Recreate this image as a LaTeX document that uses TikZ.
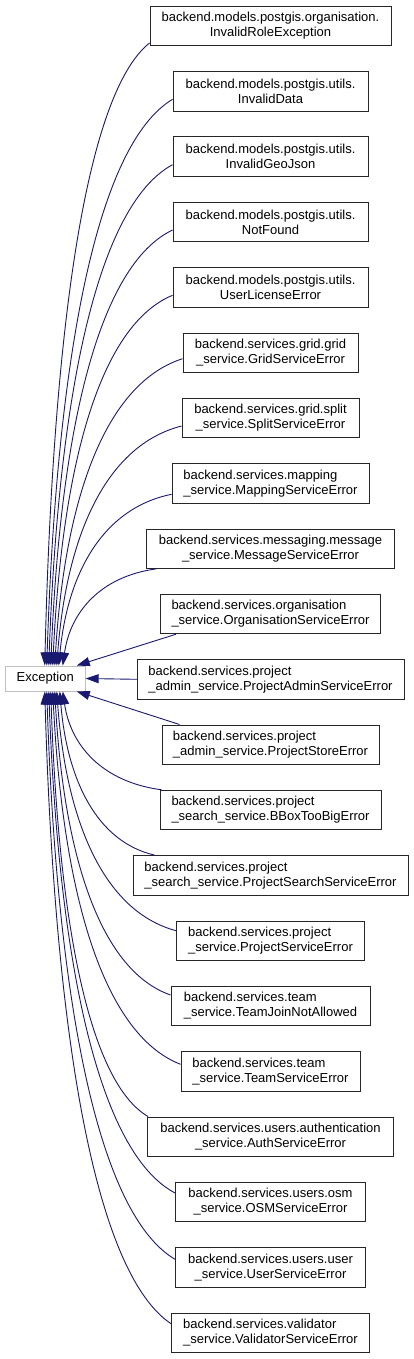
\documentclass[tikz,border=0pt]{standalone}
\usepackage{fontspec}
\setmainfont{Liberation Sans}
\usetikzlibrary{arrows.meta,calc}
\definecolor{mbl}{HTML}{191970}
\definecolor{excg}{HTML}{BFBFBF}
\begin{document}
\begin{tikzpicture}[x=1pt,y=-1pt,
  cls/.style={draw=black!85, line width=0.9pt, minimum height=39.5pt, inner sep=0pt,
    font=\fontsize{13}{15}\selectfont, fill=white},
  basecls/.style={draw=excg, line width=0.9pt, minimum height=25pt, minimum width=80pt,
    inner sep=0pt, font=\fontsize{13}{15}\selectfont, fill=white},
  edge/.style={draw=mbl, line width=0.9pt, -{Triangle[length=13pt,width=9pt]}, mbl}]
\useasboundingbox (0,0) rectangle (413,1359);
\fill[white] (0,0) rectangle (413,1359);

\node[basecls] (exc) at (45.2,678.5) {Exception};

\node[cls, minimum width=241pt, align=center] (b1) at (270.5,26.0) {backend.models.postgis.organisation.\\InvalidRoleException};
\node[cls, minimum width=195pt, align=center] (b2) at (270.5,91.3) {backend.models.postgis.utils.\\InvalidData};
\node[cls, minimum width=195pt, align=center] (b3) at (270.5,156.7) {backend.models.postgis.utils.\\InvalidGeoJson};
\node[cls, minimum width=195pt, align=center] (b4) at (270.5,222.0) {backend.models.postgis.utils.\\NotFound};
\node[cls, minimum width=195pt, align=center] (b5) at (270.5,287.3) {backend.models.postgis.utils.\\UserLicenseError};
\node[cls, minimum width=175pt, align=center] (b6) at (270.5,352.7) {backend.services.grid.grid\\\_service.GridServiceError};
\node[cls, minimum width=177pt, align=center] (b7) at (270.5,418.0) {backend.services.grid.split\\\_service.SplitServiceError};
\node[cls, minimum width=197pt, align=left] (b8) at (270.5,483.3) {backend.services.mapping\\\_service.MappingServiceError};
\node[cls, minimum width=248pt, align=center] (b9) at (270.5,548.7) {backend.services.messaging.message\\\_service.MessageServiceError};
\node[cls, minimum width=220pt, align=left] (b10) at (270.5,614.0) {backend.services.organisation\\\_service.OrganisationServiceError};
\node[cls, minimum width=267pt, align=left] (b11) at (270.5,679.3) {backend.services.project\\\_admin\_service.ProjectAdminServiceError};
\node[cls, minimum width=217pt, align=left] (b12) at (270.5,744.7) {backend.services.project\\\_admin\_service.ProjectStoreError};
\node[cls, minimum width=221pt, align=left] (b13) at (270.5,810.0) {backend.services.project\\\_search\_service.BBoxTooBigError};
\node[cls, minimum width=275pt, align=left] (b14) at (270.5,875.3) {backend.services.project\\\_search\_service.ProjectSearchServiceError};
\node[cls, minimum width=188pt, align=left] (b15) at (270.5,940.7) {backend.services.project\\\_service.ProjectServiceError};
\node[cls, minimum width=199pt, align=left] (b16) at (270.5,1006.0) {backend.services.team\\\_service.TeamJoinNotAllowed};
\node[cls, minimum width=179pt, align=left] (b17) at (270.5,1071.3) {backend.services.team\\\_service.TeamServiceError};
\node[cls, minimum width=246pt, align=center] (b18) at (270.5,1136.7) {backend.services.users.authentication\\\_service.AuthServiceError};
\node[cls, minimum width=190pt, align=center] (b19) at (270.5,1202.0) {backend.services.users.osm\\\_service.OSMServiceError};
\node[cls, minimum width=190pt, align=center] (b20) at (270.5,1267.3) {backend.services.users.user\\\_service.UserServiceError};
\node[cls, minimum width=198pt, align=left] (b21) at (270.5,1332.7) {backend.services.validator\\\_service.ValidatorServiceError};

% start points on the derived classes
\coordinate (s1) at ($(b1.west)+(0,17)$);
\coordinate (s2) at ($(b2.west)+(0,8)$);
\coordinate (s3) at ($(b3.west)+(0,8)$);
\coordinate (s4) at ($(b4.west)+(0,8)$);
\coordinate (s5) at ($(b5.west)+(0,8)$);
\coordinate (s6) at ($(b6.west)+(0,6)$);
\coordinate (s7) at ($(b7.west)+(0,8)$);
\coordinate (s8) at ($(b8.west)+(0,11)$);
\coordinate (s9) at ($(b9.south west)+(10,0)$);
\coordinate (s10) at ($(b10.south west)+(16,0)$);
\coordinate (s12) at ($(b12.north west)+(18,0)$);
\coordinate (s13) at ($(b13.north west)+(2,0)$);
\coordinate (s14) at ($(b14.north west)+(22,0)$);
\coordinate (s15) at ($(b15.west)+(0,-10)$);
\coordinate (s16) at ($(b16.west)+(0,-11)$);
\coordinate (s17) at ($(b17.west)+(0,-7)$);
\coordinate (s18) at ($(b18.north west)+(1,0)$);
\coordinate (s19) at ($(b19.west)+(0,-9)$);
\coordinate (s20) at ($(b20.west)+(0,-8)$);
\coordinate (s21) at ($(b21.west)+(0,-9)$);

% tip points on Exception
\foreach \i/\tx in {1/40,2/42,3/44,4/46,5/48,6/50,7/52,8/54,9/58}
  \coordinate (t\i) at ($(exc.north west)+(\tx,0)$);
\foreach \i/\tx in {13/58,14/55,15/52,16/50,17/48,18/46,19/44,20/42,21/40}
  \coordinate (t\i) at ($(exc.south west)+(\tx,0)$);
\coordinate (t10) at ($(exc.north west)+(72,0)$);
\coordinate (t12) at ($(exc.south west)+(72,0)$);

\foreach \i in {1,...,9,13,14,...,21}
  \draw[edge] let \p1=(s\i), \p2=(t\i) in (\p1)
    .. controls ({\x1-0.6*(\x1-\x2)},{\y1+0.08*(\y2-\y1)})
    and ({\x2+0.08*(\x1-\x2)},{\y1+0.45*(\y2-\y1)}) .. (\p2);

\draw[edge] (s10) -- (t10);
\draw[edge] (b11.west) -- (exc.east);
\draw[edge] (s12) -- (t12);
\end{tikzpicture}
\end{document}
